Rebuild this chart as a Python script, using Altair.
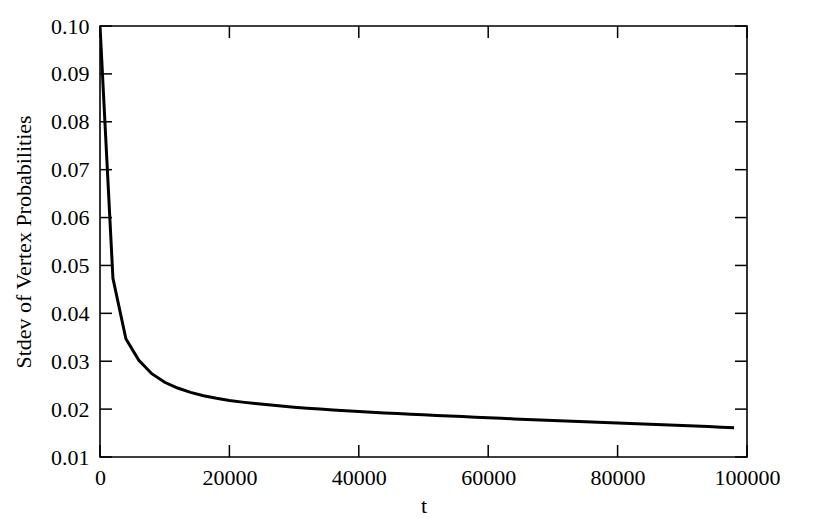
import altair as alt
import pandas as pd

t_values = list(range(0, 100000, 2000))
stdev_values = [
    0.10000, 0.04730, 0.03470, 0.03020, 0.02740, 0.02560, 0.02440, 0.02350, 0.02280, 0.02225,
    0.02180, 0.02146, 0.02116, 0.02089, 0.02064, 0.02040, 0.02019, 0.02000, 0.01983, 0.01966,
    0.01950, 0.01935, 0.01921, 0.01907, 0.01893, 0.01880, 0.01868, 0.01856, 0.01844, 0.01832,
    0.01820, 0.01808, 0.01796, 0.01784, 0.01772, 0.01760, 0.01750, 0.01740, 0.01730, 0.01720,
    0.01710, 0.01700, 0.01690, 0.01680, 0.01670, 0.01660, 0.01647, 0.01635, 0.01622, 0.01610,
]
x_ticks = [0, 20000, 40000, 60000, 80000, 100000]
y_ticks = [0.01, 0.02, 0.03, 0.04, 0.05, 0.06, 0.07, 0.08, 0.09, 0.10]

W, H = 647, 431
TICK = 12
FONT = "Liberation Serif"

df = pd.DataFrame({"t": t_values, "v": stdev_values})
xt = pd.DataFrame({"t": x_ticks})
yt = pd.DataFrame({"v": y_ticks})

xscale = alt.Scale(domain=[0, 100000], nice=False, zero=False)
yscale = alt.Scale(domain=[0.01, 0.10], nice=False, zero=False)

line = alt.Chart(df).mark_line(color="black", strokeWidth=3, clip=True).encode(
    x=alt.X("t:Q", scale=xscale,
            axis=alt.Axis(title="t", values=x_ticks, format="d", tickSize=0,
                          labelPadding=10, titlePadding=7, domain=False, grid=False,
                          labelFlush=False, labelFont=FONT, titleFont=FONT,
                          labelFontSize=22, titleFontSize=22, labelColor="black",
                          titleColor="black", titleFontWeight="normal")),
    y=alt.Y("v:Q", scale=yscale,
            axis=alt.Axis(title="Stdev of Vertex Probabilities", values=y_ticks,
                          format=".2f", tickSize=0, labelPadding=11, titlePadding=15,
                          domain=False, grid=False, labelFlush=False, labelFont=FONT,
                          titleFont=FONT, labelFontSize=22, titleFontSize=22,
                          labelColor="black", titleColor="black",
                          titleFontWeight="normal")),
)

tick_style = dict(color="black", strokeWidth=1.5)
bottom_ticks = alt.Chart(xt).mark_rule(**tick_style).encode(
    x=alt.X("t:Q", scale=xscale), y=alt.value(H), y2=alt.value(H - TICK))
top_ticks = alt.Chart(xt).mark_rule(**tick_style).encode(
    x=alt.X("t:Q", scale=xscale), y=alt.value(0), y2=alt.value(TICK))
left_ticks = alt.Chart(yt).mark_rule(**tick_style).encode(
    y=alt.Y("v:Q", scale=yscale), x=alt.value(0), x2=alt.value(TICK))
right_ticks = alt.Chart(yt).mark_rule(**tick_style).encode(
    y=alt.Y("v:Q", scale=yscale), x=alt.value(W - TICK), x2=alt.value(W))

chart = alt.layer(bottom_ticks, top_ticks, left_ticks, right_ticks, line).properties(
    width=W, height=H,
    autosize=alt.AutoSizeParams(type="none"),
    padding={"left": 92, "top": 18, "right": 75, "bottom": 62},
    background="white",
).configure_view(
    stroke="black", strokeWidth=1.6
)

chart.save("out.html", embed_options={"renderer": "svg", "actions": False})
